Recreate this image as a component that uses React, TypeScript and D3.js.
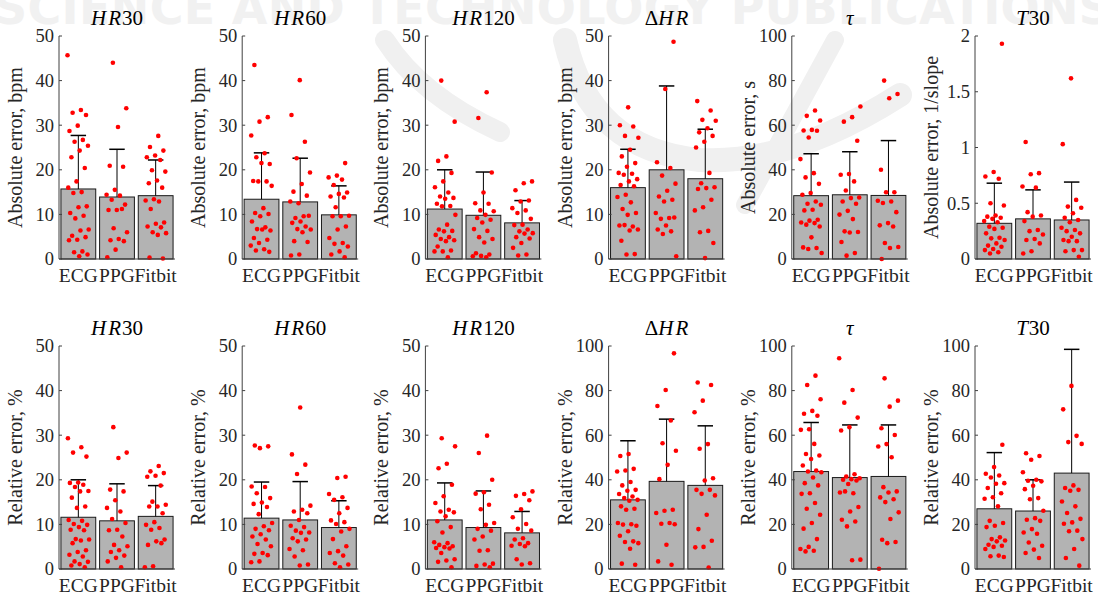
import React from 'react';
import * as d3 from 'd3';

// categories
const groups = ['ECG', 'PPG', 'Fitbit'];

// panel descriptors (top row absolute, bottom row relative)
const titleKeys = ['HR30', 'HR60', 'HR120', 'dHR', 'tau', 'T30', 'HR30', 'HR60', 'HR120', 'dHR', 'tau', 'T30'];
const yLabels = [
  'Absolute error, bpm', 'Absolute error, bpm', 'Absolute error, bpm', 'Absolute error, bpm',
  'Absolute error, s', 'Absolute error, 1/slope',
  'Relative error, %', 'Relative error, %', 'Relative error, %',
  'Relative error, %', 'Relative error, %', 'Relative error, %',
];
const yMax = [50, 50, 50, 50, 100, 2, 50, 50, 50, 100, 100, 100];
const yTicks = [
  [0, 10, 20, 30, 40, 50], [0, 10, 20, 30, 40, 50], [0, 10, 20, 30, 40, 50], [0, 10, 20, 30, 40, 50],
  [0, 20, 40, 60, 80, 100], [0, 0.5, 1, 1.5, 2],
  [0, 10, 20, 30, 40, 50], [0, 10, 20, 30, 40, 50], [0, 10, 20, 30, 40, 50],
  [0, 20, 40, 60, 80, 100], [0, 20, 40, 60, 80, 100], [0, 20, 40, 60, 80, 100],
];

// bar heights (mean) and error bar tops (mean + SD)
const barMeans = [
  [15.7, 13.9, 14.2], [13.4, 12.8, 9.9], [11.2, 9.8, 8.1], [16.0, 20.0, 18.0], [28.4, 28.8, 28.5], [0.32, 0.36, 0.35],
  [11.6, 10.8, 11.8], [11.4, 11.0, 9.3], [11.0, 9.3, 8.1], [31.0, 39.3, 37.5], [43.7, 41.0, 41.5], [27.0, 26.0, 43.0],
];
const errTops = [
  [27.7, 24.6, 22.2], [23.8, 22.6, 16.4], [20.0, 19.5, 13.1], [24.6, 38.8, 29.1], [47.2, 48.1, 53.1], [0.68, 0.62, 0.69],
  [20.0, 19.1, 18.7], [19.5, 19.6, 15.3], [19.3, 17.5, 12.9], [57.5, 67.2, 64.2], [65.7, 64.6, 64.6], [52.2, 40.0, 98.5],
];

// individual subject errors: [ECG, PPG, Fitbit]
const absHR30 = [
  [45.7, 33.4, 32.8, 32.3, 29.9, 28.7, 26.7, 26.3, 25.4, 24.3, 22.8, 20.4, 17.4, 16.0, 15.0, 14.8, 11.8, 11.6, 10.3, 9.7, 9.1, 6.6, 6.4, 5.2, 4.9, 4.3, 4.2, 1.7, 1.5, 1.0, 0.6],
  [44.0, 33.8, 29.6, 20.9, 20.7, 15.5, 14.4, 14.2, 13.3, 12.2, 11.0, 11.0, 11.2, 6.9, 6.0, 4.5, 4.2, 4.0, 2.1, 0.4],
  [27.6, 25.1, 24.3, 23.2, 22.8, 22.2, 19.9, 19.6, 17.6, 17.0, 16.0, 13.4, 13.1, 12.9, 11.2, 8.2, 7.9, 7.3, 7.1, 6.0, 5.8, 5.4, 0.3, 0.1],
];
const absHR60 = [
  [43.5, 31.8, 30.8, 27.7, 23.7, 22.8, 21.3, 21.5, 17.5, 17.4, 17.4, 16.4, 11.4, 10.3, 10.1, 9.6, 8.4, 7.1, 6.7, 6.4, 6.6, 4.7, 4.3, 3.6, 3.0, 2.2, 1.9, 1.6],
  [40.1, 32.3, 26.3, 22.6, 19.4, 16.8, 15.1, 14.2, 12.5, 12.9, 9.6, 9.2, 9.7, 8.4, 8.1, 7.3, 6.7, 6.6, 6.0, 4.0, 3.8, 1.0, 0.8],
  [21.5, 18.7, 18.3, 17.8, 16.6, 14.9, 14.6, 14.0, 13.8, 11.6, 9.7, 9.6, 9.6, 7.3, 6.6, 4.7, 3.6, 3.4, 2.8, 1.7, 1.0, 0.4],
];
const absHR120 = [
  [40.0, 30.8, 23.0, 22.0, 19.3, 17.4, 16.1, 14.9, 14.0, 13.7, 13.5, 12.4, 11.9, 11.8, 9.9, 7.7, 6.6, 6.3, 6.2, 5.4, 4.9, 4.5, 4.2, 4.0, 2.8, 1.9, 1.7, 1.7, 0.4],
  [37.4, 31.6, 19.4, 14.9, 12.5, 12.4, 10.9, 10.7, 9.9, 9.2, 8.8, 8.2, 6.7, 6.3, 4.9, 4.5, 3.7, 1.3, 1.0, 0.7, 0.6, 0.4],
  [17.4, 17.0, 15.4, 13.1, 12.9, 11.4, 10.9, 10.3, 9.0, 7.7, 7.6, 6.6, 6.2, 5.8, 5.7, 4.9, 4.6, 3.6, 2.5, 1.0, 0.8],
];
const absDHR = [
  [34.0, 30.0, 29.7, 27.6, 27.2, 24.5, 23.0, 21.5, 20.7, 19.3, 19.1, 18.9, 17.9, 17.4, 16.6, 16.3, 14.4, 13.9, 12.7, 11.2, 10.3, 9.9, 7.5, 7.3, 7.6, 6.6, 6.4, 4.1, 1.1, 1.0],
  [48.7, 38.1, 21.7, 20.4, 18.7, 16.9, 15.3, 14.0, 13.3, 12.9, 10.3, 9.2, 9.0, 9.3, 7.5, 6.6, 6.2, 5.6, 0.6],
  [35.4, 33.3, 31.2, 31.0, 29.3, 28.4, 27.6, 26.3, 25.0, 19.3, 17.0, 16.1, 15.9, 15.7, 13.3, 11.6, 10.9, 6.3, 6.0, 3.6, 0.2],
];
const absTau = [
  [66.6, 64.2, 62.1, 57.9, 57.6, 57.5, 54.5, 44.8, 38.5, 36.6, 33.7, 29.6, 28.8, 25.8, 24.8, 24.3, 22.1, 21.8, 17.6, 17.2, 16.4, 16.1, 15.4, 14.6, 9.7, 5.2, 4.9, 4.5, 2.7],
  [68.4, 63.6, 61.6, 53.0, 38.1, 37.8, 34.8, 30.7, 27.6, 27.3, 25.8, 24.8, 21.6, 19.9, 17.9, 12.4, 12.1, 11.9, 7.6, 2.7, 1.5],
  [80.0, 74.0, 72.1, 40.0, 29.9, 29.9, 26.1, 25.8, 25.1, 21.0, 16.1, 15.1, 14.6, 7.2, 5.4, 4.9, 0.0],
];
const absT30 = [
  [1.93, 0.78, 0.74, 0.72, 0.5, 0.48, 0.39, 0.38, 0.37, 0.36, 0.34, 0.33, 0.29, 0.28, 0.27, 0.23, 0.19, 0.185, 0.17, 0.14, 0.12, 0.11, 0.09, 0.08, 0.06, 0.05],
  [1.05, 0.77, 0.76, 0.65, 0.64, 0.42, 0.39, 0.38, 0.34, 0.26, 0.25, 0.22, 0.18, 0.17, 0.14, 0.07, 0.05],
  [1.62, 1.03, 0.53, 0.47, 0.46, 0.41, 0.37, 0.35, 0.33, 0.28, 0.26, 0.25, 0.23, 0.2, 0.17, 0.16, 0.16, 0.08, 0.08, 0.07, 0.02],
];
const relHR30 = [
  [29.3, 27.3, 26.1, 25.2, 19.4, 19.3, 18.9, 18.4, 17.5, 17.4, 16.0, 14.0, 13.7, 11.0, 10.8, 10.1, 9.9, 9.4, 8.8, 8.7, 6.7, 6.6, 6.4, 5.8, 4.2, 3.8, 3.2, 2.8, 1.7, 1.6, 1.1, 0.8, 0.4],
  [31.8, 26.1, 24.9, 17.8, 17.4, 15.4, 13.7, 12.9, 11.2, 10.3, 8.8, 8.7, 7.3, 5.4, 5.1, 4.2, 3.8, 3.0, 2.5, 1.7, 0.4],
  [23.1, 21.9, 21.5, 20.9, 20.7, 18.7, 15.1, 14.4, 14.0, 14.0, 12.5, 10.5, 9.9, 9.2, 8.8, 6.6, 6.2, 5.4, 5.8, 0.6, 0.4],
];
const relHR60 = [
  [27.7, 27.5, 27.1, 18.5, 18.4, 17.0, 15.9, 14.9, 14.6, 13.9, 12.3, 10.3, 9.6, 9.0, 8.7, 7.8, 7.3, 6.6, 5.6, 5.1, 3.6, 3.4, 3.1, 1.7, 1.5],
  [36.2, 25.7, 23.4, 21.3, 14.2, 13.3, 12.9, 12.5, 11.0, 9.7, 9.4, 8.6, 8.2, 8.1, 6.9, 6.6, 6.2, 4.5, 4.2, 2.8, 1.0, 0.8],
  [20.7, 20.4, 16.8, 16.1, 15.5, 13.7, 12.5, 10.9, 10.5, 10.1, 9.0, 8.4, 6.7, 5.1, 4.0, 3.6, 3.0, 1.3, 1.0, 0.4],
];
const relHR120 = [
  [29.3, 27.5, 23.6, 22.6, 18.9, 16.3, 14.8, 13.3, 12.9, 12.7, 11.8, 10.7, 9.4, 8.2, 6.0, 5.8, 5.4, 5.1, 4.9, 4.7, 4.6, 3.6, 2.2, 1.9, 1.6, 0.4],
  [29.9, 26.0, 20.0, 17.2, 16.9, 14.4, 13.4, 10.3, 9.9, 9.0, 8.6, 7.3, 6.6, 4.2, 4.1, 1.2, 1.0, 0.7, 0.4],
  [17.4, 16.8, 16.4, 15.4, 13.4, 11.6, 10.1, 9.0, 8.6, 6.9, 6.6, 5.8, 5.6, 5.2, 5.1, 2.2, 1.3, 1.0],
];
const relDHR = [
  [51.6, 50.7, 44.9, 44.2, 43.7, 39.0, 37.5, 35.5, 35.1, 33.6, 32.5, 31.8, 31.0, 30.6, 28.1, 27.0, 26.6, 20.6, 20.1, 19.9, 19.4, 16.9, 14.9, 12.4, 12.1, 11.6, 9.1, 2.4, 1.9],
  [96.7, 80.3, 73.1, 66.6, 56.4, 53.0, 46.7, 40.3, 26.6, 26.1, 25.1, 20.6, 20.3, 20.1, 10.9, 3.4, 1.9],
  [83.6, 82.5, 75.5, 70.3, 56.0, 53.9, 40.7, 39.7, 35.5, 35.5, 33.7, 33.0, 24.3, 17.9, 12.7, 9.9, 9.7, 0.7],
];
const relTau = [
  [86.7, 82.5, 76.1, 70.9, 69.6, 68.7, 62.7, 62.4, 56.1, 51.6, 50.9, 49.3, 46.4, 44.2, 43.7, 43.4, 41.0, 38.5, 37.5, 34.0, 33.7, 29.6, 27.0, 24.3, 20.6, 18.1, 13.4, 9.9, 9.0, 8.2, 7.9],
  [94.5, 80.3, 74.6, 67.9, 63.6, 62.1, 42.5, 41.5, 40.7, 40.3, 40.0, 39.7, 38.1, 34.3, 34.0, 34.8, 27.8, 25.8, 22.1, 21.3, 19.1, 4.2, 3.9],
  [85.5, 75.5, 72.8, 63.1, 60.1, 56.0, 54.9, 50.1, 36.7, 34.8, 34.3, 32.1, 31.3, 30.0, 25.4, 22.4, 13.1, 12.1, 11.6, 0.1],
];
const relT30 = [
  [55.7, 45.7, 42.7, 41.9, 41.0, 38.5, 38.2, 36.3, 34.0, 32.2, 31.5, 28.1, 21.6, 20.6, 19.4, 18.8, 14.2, 13.4, 12.8, 12.4, 10.9, 10.4, 9.9, 9.0, 6.0, 5.7, 5.4],
  [51.9, 50.7, 49.0, 43.4, 40.0, 39.6, 39.3, 37.3, 35.8, 31.8, 31.3, 26.1, 22.8, 22.1, 21.6, 17.9, 16.4, 15.8, 11.9, 10.4, 8.7, 7.2, 4.9],
  [82.1, 71.6, 59.7, 56.9, 56.1, 37.5, 36.3, 35.5, 35.1, 30.3, 28.1, 25.1, 22.5, 20.9, 20.3, 17.2, 16.9, 13.4, 9.0, 4.9, 1.5],
];

const dotSets = [absHR30, absHR60, absHR120, absDHR, absTau, absT30, relHR30, relHR60, relHR120, relDHR, relTau, relT30];

const W = 1098;
const H = 598;
const plotW = 116;
const plotH = 223;
const serif = "'Liberation Serif', 'DejaVu Serif', 'Times New Roman', Times, serif";
const ink = '#262626';

function Title({ k }: { k: string }) {
  if (k === 'dHR') return (<><tspan>Δ</tspan><tspan fontStyle="italic">H</tspan><tspan fontStyle="italic" dx="2">R</tspan></>);
  if (k === 'tau') return <tspan fontStyle="italic">τ</tspan>;
  if (k === 'T30') return (<><tspan fontStyle="italic">T</tspan><tspan dx="1">30</tspan></>);
  return (<><tspan fontStyle="italic">H</tspan><tspan fontStyle="italic" dx="2">R</tspan><tspan dx="1">{k.slice(2)}</tspan></>);
}

function Panel({ idx }: { idx: number }) {
  const col = idx % 6;
  const row = Math.floor(idx / 6);
  const left = 59 + col * 183.2;
  const top = row === 0 ? 36 : 346;
  const x = d3.scaleLinear().domain([0.5, 3.5]).range([0, plotW]);
  const y = d3.scaleLinear().domain([0, yMax[idx]]).range([plotH, 0]);
  const unit = x(2) - x(1);
  const barW = unit * 0.9;
  const capW = unit * 0.2;

  return (
    <g transform={`translate(${left},${top})`}>
      {barMeans[idx].map((m, g) => (
        <rect key={'b' + g} x={x(g + 1) - barW / 2} y={y(m)} width={barW} height={plotH - y(m)}
          fill="#b3b3b3" stroke="#1a1a1a" strokeWidth={1} />
      ))}
      {errTops[idx].map((t, g) => (
        <g key={'e' + g} stroke="#000" strokeWidth={1}>
          <line x1={x(g + 1)} x2={x(g + 1)} y1={y(barMeans[idx][g])} y2={y(t)} />
          <line x1={x(g + 1) - capW} x2={x(g + 1) + capW} y1={y(t)} y2={y(t)} strokeWidth={1.5} />
        </g>
      ))}
      {dotSets[idx].map((vals, g) =>
        vals.map((v, i) => {
          const jit = (((i * 0.6180339887 + g * 0.31 + idx * 0.17) % 1) - 0.5) * 0.56;
          return <circle key={`d${g}-${i}`} cx={x(g + 1 + jit)} cy={y(v)} r={2.3} fill="#ff0000" />;
        })
      )}
      <line x1={0} x2={0} y1={0} y2={plotH} stroke="#404040" strokeWidth={1} />
      <line x1={0} x2={plotW} y1={plotH} y2={plotH} stroke="#404040" strokeWidth={1} />
      {yTicks[idx].map((t) => (
        <g key={'t' + t}>
          <line x1={0} x2={3} y1={y(t)} y2={y(t)} stroke="#404040" />
          <text x={-5} y={y(t)} dy="0.35em" textAnchor="end" fontSize={18.5} fill={ink}>{String(t)}</text>
        </g>
      ))}
      {groups.map((gname, g) => (
        <text key={'c' + gname} x={x(g + 1)} y={plotH + 23} textAnchor="middle" fontSize={19.5} fill={ink}>{gname}</text>
      ))}
      <text transform={`translate(-37,${plotH / 2}) rotate(-90)`} textAnchor="middle" fontSize={20} fill={ink}>{yLabels[idx]}</text>
      <text x={plotW / 2} y={-11} textAnchor="middle" fontSize={21} fill="#000"><Title k={titleKeys[idx]} /></text>
    </g>
  );
}

export default function App() {
  return (
    <svg width={W} height={H} viewBox={`0 0 ${W} ${H}`}
      style={{ position: 'absolute', left: 0, top: 0, background: '#fff', fontFamily: serif }}>
      <rect width={W} height={H} fill="#fff" />
      {/* faint publisher watermark */}
      <g fill="none" stroke="#f0f0f0" strokeLinecap="round">
        <path d="M 385 40 Q 420 95 500 132" strokeWidth={20} />
        <path d="M 565 40 Q 590 150 700 160 Q 790 165 900 95" strokeWidth={24} />
        <path d="M 835 40 L 745 205" strokeWidth={18} />
      </g>
      <text x={-6} y={24} style={{ fontFamily: "'DejaVu Sans', sans-serif" }} fontWeight="bold" fontSize={46} fill="#f1f1f1"
        textLength={W + 20} lengthAdjust="spacing">SCIENCE AND TECHNOLOGY PUBLICATIONS</text>
      {titleKeys.map((_, i) => <Panel key={i} idx={i} />)}
    </svg>
  );
}
